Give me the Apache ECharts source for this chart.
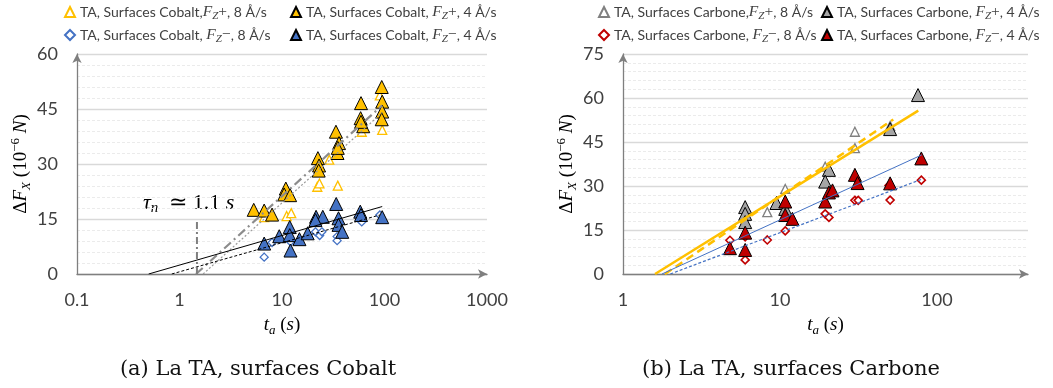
<!DOCTYPE html>
<html><head><meta charset="utf-8">
<script src="https://cdn.jsdelivr.net/npm/echarts@6/dist/echarts.min.js"></script>
<style>html,body{margin:0;padding:0;background:#fff}#c{width:1053px;height:388px}</style>
</head><body><div id="c"></div>
<script>
// ---------- data (t_a in s, ΔF_X in 1e-6 N) ----------
const COBALT_PLUS_8 = [[6.7,15.5],[11.1,15.8],[12.3,16.6],[22.1,23.8],[23.2,24.7],[28.9,31.2],[35,24.1],[60,38.8],[95,39.3],[90,48.7]];
const COBALT_PLUS_4 = [[5.3,17.5],[6.7,17.3],[8.0,16.2],[10.9,23.3],[10.5,21.7],[12.0,21.5],[22.4,31.6],[23.0,29.6],[22.8,28.2],[33.6,38.8],[36,35.7],[34.8,33.0],[35,34.4],[59,46.6],[58.5,42.5],[62,40.3],[59,41.5],[94,51.0],[95,47.0],[95,44.3],[94,42.2]];
const COBALT_MINUS_8 = [[6.7,4.6],[8.0,8.6],[12.1,8.8],[21.2,11.5],[23.3,10.5],[24.5,11.5],[34.5,10.2],[34.5,9.1],[60,14.2],[90,16.1]];
const COBALT_MINUS_4 = [[6.7,8.3],[9.4,10.3],[11.9,12.8],[11.9,10.6],[12.1,6.4],[14.8,9.5],[17.8,11.1],[21.5,15.6],[25,15.6],[21.2,14.7],[33.8,19.1],[35.6,15.2],[35.6,13.4],[38.7,11.5],[58,17.0],[59,16.1],[95,15.5]];
const CARBONE_PLUS_8 = [[8.3,21.1],[10.8,29.0],[19.4,36.6],[30,48.5],[30,42.9],[50.3,50.5]];
const CARBONE_PLUS_4 = [[6.0,22.8],[6.0,20.5],[6.0,17.7],[9.5,24.2],[10.8,22.2],[20.5,35.5],[19.4,31.5],[50.3,49.4],[75.7,61.0]];
const CARBONE_MINUS_8 = [[4.8,11.5],[6.0,12.7],[6.0,4.8],[8.3,11.6],[10.8,14.7],[19.4,20.5],[20.5,19.3],[30,25.1],[31.5,25.1],[50.3,25.2],[49.5,30.2],[79.5,32.0]];
const CARBONE_MINUS_4 = [[4.8,8.8],[6.0,14.1],[6.0,8.2],[10.8,24.7],[10.8,20.1],[12.0,18.8],[19.4,24.7],[20.5,27.8],[21.6,28.5],[30,33.8],[31.2,31.0],[50.3,30.9],[79.5,39.4]];
// logarithmic trend lines (end points)
const TREND_COBALT_PLUS_4 = [[1.45,0],[95,46]];
const TREND_COBALT_PLUS_8 = [[1.7,0],[95,44]];
const TREND_COBALT_MINUS_4 = [[0.5,0],[95,18.4]];
const TREND_COBALT_MINUS_8 = [[0.84,0],[90,16.1]];
const TREND_CARBONE_PLUS_4 = [[1.6,0],[76,55.7]];
const TREND_CARBONE_PLUS_8 = [[1.85,0],[52.7,52.7]];
const TREND_CARBONE_MINUS_4 = [[1.77,0],[80,40.6]];
const TREND_CARBONE_MINUS_8 = [[2.0,0],[80,32.3]];
const TAU_MARK = [[1.48,0],[1.48,14.2]];
// axes
const X_RANGE_A = [0.1, 1000];
const X_RANGE_B = [1, 380];
const Y_MAX_A = 60, Y_MAX_B = 75, Y_STEP = 15;

// ---------- styling ----------
const SANS = 'Lato';
const SERIF = 'Liberation Serif';
const TXT = '#404040';
const YEL = '#FFC000', BLU = '#4472C4', GRY = '#A5A5A5', RED = '#C00000';

function legRich(fs) {
  return {
    n: {fontFamily: SANS, fontSize: fs, color: TXT, lineHeight: 19},
    i: {fontFamily: SERIF, fontStyle: 'italic', fontSize: fs + 1.5, color: TXT, lineHeight: 19},
    s: {fontFamily: SERIF, fontStyle: 'italic', fontSize: fs - 3, color: TXT, lineHeight: 11, verticalAlign: 'bottom'},
    m: {fontFamily: SERIF, fontSize: fs + 1.5, color: TXT, lineHeight: 19}
  };
}
const LABELS = {
  'Co+8': '{n|TA, Surfaces Cobalt,}{i|F}{s|Z}{m|+}{n|, 8 Å/s}',
  'Co+4': '{n|TA, Surfaces Cobalt, }{i|F}{s|Z}{m|+}{n|, 4 Å/s}',
  'Co-8': '{n|TA, Surfaces Cobalt, }{i|F}{s|Z}{m|−}{n|, 8 Å/s}',
  'Co-4': '{n|TA, Surfaces Cobalt, }{i|F}{s|Z}{m|−}{n|, 4 Å/s}',
  'Ca+8': '{n|TA, Surfaces Carbone,}{i|F}{s|Z}{m|+}{n|, 8 Å/s}',
  'Ca+4': '{n|TA, Surfaces Carbone, }{i|F}{s|Z}{m|+}{n|, 4 Å/s}',
  'Ca-8': '{n|TA, Surfaces Carbone, }{i|F}{s|Z}{m|−}{n|, 8 Å/s}',
  'Ca-4': '{n|TA, Surfaces Carbone, }{i|F}{s|Z}{m|−}{n|, 4 Å/s}'
};
function legend(name, left, top, fs) {
  return {show: true, data: [name], left: left, top: top, padding: 0, itemWidth: 10, itemHeight: 10,
    selectedMode: false, formatter: n => LABELS[n], textStyle: {rich: legRich(fs)}};
}
function scatter(name, data, idx, symbol, size, fill, stroke, bw) {
  return {type: 'scatter', name: name, data: data, xAxisIndex: idx, yAxisIndex: idx, symbol: symbol,
    symbolSize: size, z: 2, itemStyle: {color: fill, borderColor: stroke, borderWidth: bw, opacity: 1}};
}
function trend(data, idx, color, width, type) {
  return {type: 'line', data: data, xAxisIndex: idx, yAxisIndex: idx, showSymbol: false, symbol: 'none',
    z: 4, silent: true, lineStyle: {color: color, width: width, type: type}};
}
const mathRich = {
  u: {fontFamily: SERIF, fontSize: 19, color: '#000', lineHeight: 24},
  i: {fontFamily: SERIF, fontStyle: 'italic', fontSize: 19, color: '#000', lineHeight: 24},
  sb: {fontFamily: SERIF, fontStyle: 'italic', fontSize: 13, color: '#000', lineHeight: 13, verticalAlign: 'bottom'},
  sp: {fontFamily: SERIF, fontSize: 13, color: '#000', lineHeight: 13, verticalAlign: 'top'}
};
const Y_NAME = '{u|Δ}{i|F}{sb|X}{u| (10}{sp|−6}{u| }{i|N}{u|)}';
const X_NAME = '{i|t}{sb|a}{u| (}{i|s}{u|)}';

function xAxis(idx, range) {
  return {type: 'log', logBase: 10, gridIndex: idx, min: range[0], max: range[1],
    name: X_NAME, nameLocation: 'middle', nameGap: 39, nameTextStyle: {rich: mathRich},
    axisLine: {show: true, onZero: false, symbol: ['none', 'arrow'], symbolSize: [7, 9], lineStyle: {color: '#7f7f7f', width: 1.3}},
    axisTick: {show: false}, splitLine: {show: false}, minorTick: {show: false}, minorSplitLine: {show: false},
    axisLabel: {fontFamily: SANS, fontSize: 18, color: TXT, margin: 17, showMaxLabel: true,
      formatter: v => { const l = Math.log10(v); return Math.abs(l - Math.round(l)) < 1e-6 ? String(+v.toPrecision(6)) : ''; }}};
}
function yAxis(idx, max) {
  return {type: 'value', gridIndex: idx, min: 0, max: max, interval: Y_STEP,
    name: Y_NAME, nameLocation: 'middle', nameRotate: 90, nameGap: 42, nameTextStyle: {rich: mathRich},
    axisLine: {show: true, symbol: ['none', 'arrow'], symbolSize: [7, 9], lineStyle: {color: '#7f7f7f', width: 1.3}},
    axisTick: {show: false},
    axisLabel: {fontFamily: SANS, fontSize: 18, color: TXT, margin: 19},
    splitLine: {show: true, lineStyle: {color: '#d9d9d9', width: 1.3}},
    minorTick: {show: false, splitNumber: 5},
    minorSplitLine: {show: true, lineStyle: {color: '#ebebeb', width: 1, type: [3, 2]}}};
}

const option = {
  animation: false,
  backgroundColor: '#fff',
  grid: [
    {left: 77, top: 54, width: 410, height: 220},
    {left: 623, top: 54, width: 405, height: 220}
  ],
  xAxis: [xAxis(0, X_RANGE_A), xAxis(1, X_RANGE_B)],
  yAxis: [yAxis(0, Y_MAX_A), yAxis(1, Y_MAX_B)],
  legend: [
    legend('Co+8', 64, 4, 14), legend('Co+4', 290, 4, 14), legend('Co-8', 64, 27, 14), legend('Co-4', 290, 27, 14),
    legend('Ca+8', 598, 4, 14), legend('Ca+4', 821, 4, 14), legend('Ca-8', 598, 27, 14), legend('Ca-4', 821, 27, 14)
  ],
  series: [
    scatter('Co+8', COBALT_PLUS_8, 0, 'triangle', 9, '#fff', YEL, 1.3),
    scatter('Co+4', COBALT_PLUS_4, 0, 'triangle', 13, YEL, '#000', 1),
    scatter('Co-8', COBALT_MINUS_8, 0, 'diamond', 8, '#fff', BLU, 1.3),
    scatter('Co-4', COBALT_MINUS_4, 0, 'triangle', 13, BLU, '#000', 1),
    trend(TREND_COBALT_PLUS_4, 0, '#8c8c8c', 2.2, [9, 4, 2, 4]),
    trend(TREND_COBALT_PLUS_8, 0, '#9a9a9a', 1.2, [2, 2]),
    trend(TREND_COBALT_MINUS_4, 0, '#000', 1, 'solid'),
    trend(TREND_COBALT_MINUS_8, 0, '#000', 1, [3, 2]),
    trend(TAU_MARK, 0, '#7f7f7f', 2, [7, 3, 2, 3]),
    scatter('Ca+8', CARBONE_PLUS_8, 1, 'triangle', 9, '#fff', '#808080', 1.3),
    scatter('Ca+4', CARBONE_PLUS_4, 1, 'triangle', 13, GRY, '#000', 1),
    scatter('Ca-8', CARBONE_MINUS_8, 1, 'diamond', 8, '#fff', RED, 1.6),
    scatter('Ca-4', CARBONE_MINUS_4, 1, 'triangle', 13, RED, '#000', 1),
    trend(TREND_CARBONE_PLUS_4, 1, YEL, 2.5, 'solid'),
    trend(TREND_CARBONE_PLUS_8, 1, YEL, 2.5, [8, 5]),
    trend(TREND_CARBONE_MINUS_4, 1, BLU, 1, 'solid'),
    trend(TREND_CARBONE_MINUS_8, 1, BLU, 1.2, [3, 2])
  ],
  graphic: [
    {type: 'text', left: 143, top: 192, silent: true,
      style: {text: '{i|τ}{s|n}{u|  ≃ 1.1 }{i|s}', rich: {
        i: {fontFamily: SERIF, fontStyle: 'italic', fontSize: 22, color: '#9a9a9a', lineHeight: 26},
        u: {fontFamily: SERIF, fontSize: 22, color: '#9a9a9a', lineHeight: 26},
        s: {fontFamily: SERIF, fontStyle: 'italic', fontSize: 15, color: '#9a9a9a', lineHeight: 15, verticalAlign: 'bottom'}}}},
    {type: 'text', x: 258, y: 370, silent: true,
      style: {text: '(a) La TA, surfaces Cobalt', fontFamily: 'DejaVu Serif', fontSize: 21, fill: '#111',
        align: 'center', verticalAlign: 'middle', textAlign: 'center', textVerticalAlign: 'middle'}},
    {type: 'text', x: 791, y: 370, silent: true,
      style: {text: '(b) La TA, surfaces Carbone', fontFamily: 'DejaVu Serif', fontSize: 21, fill: '#111',
        align: 'center', verticalAlign: 'middle', textAlign: 'center', textVerticalAlign: 'middle'}}
  ]
};
const chart = echarts.init(document.getElementById('c'), null, {renderer: 'canvas'});
chart.setOption(option);
</script></body></html>
